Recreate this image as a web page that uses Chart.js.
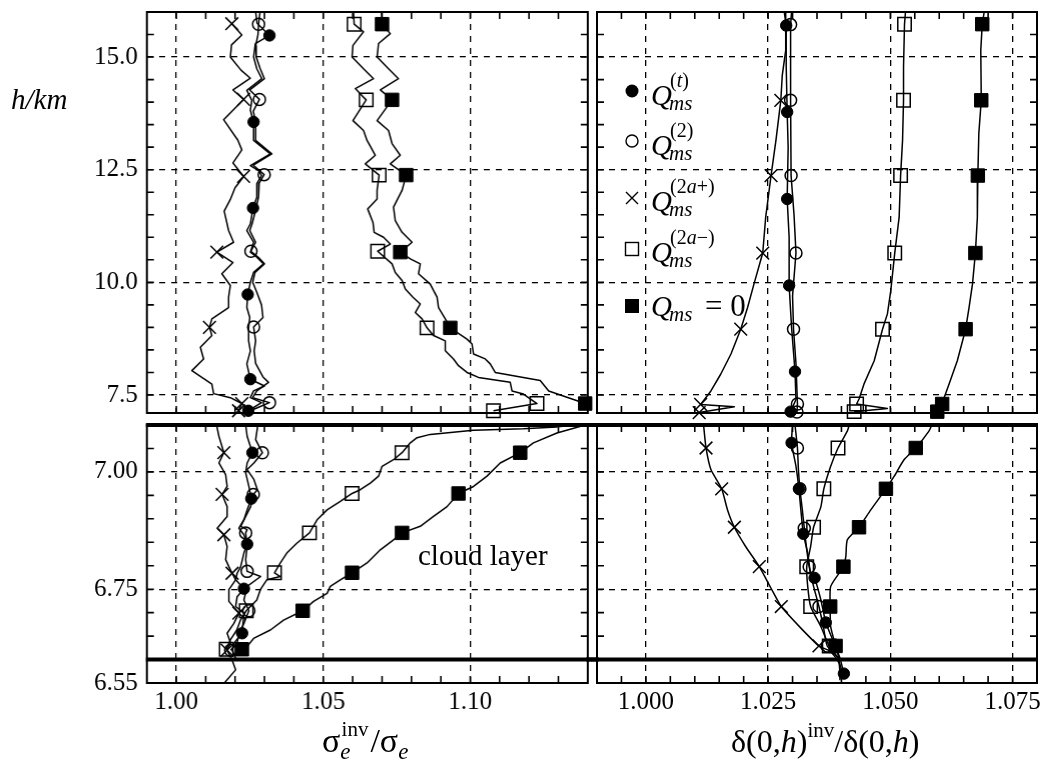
<!DOCTYPE html>
<html><head><meta charset="utf-8">
<script src="https://cdn.jsdelivr.net/npm/chart.js@4.4.1/dist/chart.umd.min.js"></script>
<style>
html,body{margin:0;padding:0;background:#fff;}
#wrap{position:relative;width:1046px;height:762px;overflow:hidden;background:#fff;}
#wrap canvas{position:absolute;left:0;top:0;}
#txt{position:absolute;left:0;top:0;}
</style></head><body>
<div id="wrap">
<canvas id="tl"></canvas><canvas id="tr"></canvas><canvas id="bl"></canvas><canvas id="br"></canvas>
<svg id="txt" width="1046" height="762" font-family="Liberation Serif, Times New Roman, serif" fill="#000">
  <text x="11" y="109" font-size="29" font-style="italic">h/km</text>
  <!-- legend -->
  <circle cx="632" cy="91" r="6.5" fill="#000"/>
  <circle cx="632" cy="141" r="6" fill="none" stroke="#000" stroke-width="1.4"/>
  <path d="M626,192 L638,204 M638,192 L626,204" stroke="#000" stroke-width="1.4"/>
  <rect x="625.5" y="242.5" width="13" height="13" fill="none" stroke="#000" stroke-width="1.4"/>
  <rect x="625" y="299" width="14" height="14" fill="#000"/>
  <text x="651" y="105" font-size="29" font-style="italic">Q</text>
  <text x="670" y="87" font-size="20">(<tspan font-style="italic">t</tspan>)</text>
  <text x="669" y="110" font-size="21" font-style="italic">ms</text>
  <text x="651" y="155" font-size="29" font-style="italic">Q</text>
  <text x="670" y="137" font-size="20">(2)</text>
  <text x="669" y="160" font-size="21" font-style="italic">ms</text>
  <text x="651" y="211" font-size="29" font-style="italic">Q</text>
  <text x="670" y="193" font-size="20">(2<tspan font-style="italic">a</tspan>+)</text>
  <text x="669" y="216" font-size="21" font-style="italic">ms</text>
  <text x="651" y="262" font-size="29" font-style="italic">Q</text>
  <text x="670" y="244" font-size="20">(2<tspan font-style="italic">a</tspan>−)</text>
  <text x="669" y="267" font-size="21" font-style="italic">ms</text>
  <text x="651" y="316" font-size="29" font-style="italic">Q</text>
  <text x="669" y="321" font-size="21" font-style="italic">ms</text>
  <text x="705" y="316" font-size="31">= 0</text>
  <!-- annotation -->
  <text x="418" y="565" font-size="29">cloud layer</text>
  <!-- axis titles -->
  <text x="322" y="752" font-size="34">σ<tspan font-size="23" font-style="italic" dy="7">e</tspan><tspan font-size="21" dy="-23" dx="-9">inv</tspan><tspan dy="16" dx="2">/σ</tspan><tspan font-size="23" font-style="italic" dy="7">e</tspan></text>
  <text x="731" y="752" font-size="32">δ(0,<tspan font-style="italic">h</tspan>)<tspan font-size="21" dy="-15">inv</tspan><tspan dy="15">/δ(0,</tspan><tspan font-style="italic">h</tspan>)</text>
</svg>
</div>
<script>
// ---------- tick labels / grid values ----------
const xLabelsLeft = [1.00, 1.05, 1.10];
const xLabelsRight = [1.000, 1.025, 1.050, 1.075];
const yLabelsTop = [7.5, 10.0, 12.5, 15.0];
const yLabelsBottom = [6.55, 6.75, 7.00];
const yGridBottom = [6.75, 7.00];
const cloudLayer = [6.60, 7.10];

// ---------- top-left panel: sigma ratio, h 7.1..16 km ----------
const tl_t_line = [[1.0270,16.00],[1.0275,15.75],[1.0317,15.48],[1.0269,15.30],[1.0263,15.00],[1.0274,14.74],[1.0291,14.52],[1.0240,14.26],[1.0257,14.04],[1.0252,13.82],[1.0263,13.56],[1.0263,13.15],[1.0320,12.85],[1.0252,12.59],[1.0280,12.48],[1.0290,12.37],[1.0274,12.19],[1.0274,11.89],[1.0261,11.65],[1.0252,11.30],[1.0240,11.15],[1.0263,10.89],[1.0252,10.67],[1.0274,10.56],[1.0297,10.41],[1.0263,10.22],[1.0252,10.00],[1.0243,9.73],[1.0240,9.44],[1.0250,9.22],[1.0246,9.00],[1.0246,8.70],[1.0252,8.48],[1.0240,8.19],[1.0252,7.85],[1.0300,7.70],[1.0263,7.59],[1.0252,7.44],[1.0290,7.33],[1.0245,7.15]];
const tl_t_marks = [[1.0317,15.48],[1.0263,13.56],[1.0261,11.65],[1.0243,9.73],[1.0252,7.85],[1.0245,7.15]];
const tl_2_line = [[1.0285,16.00],[1.0280,15.73],[1.0278,15.50],[1.0270,15.25],[1.0272,15.00],[1.0285,14.75],[1.0300,14.52],[1.0250,14.27],[1.0283,14.06],[1.0262,13.80],[1.0270,13.55],[1.0270,13.15],[1.0325,12.85],[1.0262,12.60],[1.0299,12.39],[1.0282,12.20],[1.0280,11.90],[1.0270,11.60],[1.0258,11.30],[1.0250,11.15],[1.0270,10.89],[1.0254,10.69],[1.0280,10.55],[1.0300,10.41],[1.0268,10.22],[1.0260,10.00],[1.0274,9.78],[1.0290,9.50],[1.0295,9.22],[1.0263,9.01],[1.0270,8.70],[1.0265,8.48],[1.0270,8.20],[1.0295,7.90],[1.0314,7.78],[1.0274,7.59],[1.0260,7.44],[1.0317,7.33],[1.0270,7.20],[1.0250,7.15]];
const tl_2_marks = [[1.0280,15.73],[1.0283,14.06],[1.0299,12.39],[1.0254,10.69],[1.0263,9.01],[1.0317,7.33]];
const tl_a_line = [[1.0189,15.74],[1.0223,15.49],[1.0188,15.27],[1.0184,15.00],[1.0220,14.71],[1.0252,14.53],[1.0193,14.27],[1.0229,14.06],[1.0161,13.61],[1.0209,13.16],[1.0223,12.94],[1.0193,12.65],[1.0229,12.35],[1.0200,12.10],[1.0184,11.84],[1.0163,11.58],[1.0178,11.15],[1.0195,10.89],[1.0138,10.67],[1.0193,10.44],[1.0155,10.19],[1.0184,9.93],[1.0178,9.67],[1.0178,9.44],[1.0121,9.19],[1.0113,9.00],[1.0121,8.82],[1.0082,8.56],[1.0093,8.30],[1.0053,8.04],[1.0121,7.74],[1.0127,7.53],[1.0184,7.44],[1.0223,7.31],[1.0212,7.15]];
const tl_a_marks = [[1.0189,15.74],[1.0229,14.06],[1.0229,12.35],[1.0138,10.67],[1.0113,9.00],[1.0223,7.31],[1.0212,7.15]];
const tl_m_line = [[1.0603,16.00],[1.0605,15.73],[1.0637,15.56],[1.0601,15.26],[1.0598,15.00],[1.0637,14.74],[1.0671,14.52],[1.0609,14.30],[1.0637,14.11],[1.0646,14.05],[1.0601,13.59],[1.0637,13.37],[1.0649,13.15],[1.0677,12.82],[1.0643,12.63],[1.0690,12.38],[1.0683,12.04],[1.0683,11.85],[1.0651,11.63],[1.0669,11.33],[1.0673,11.11],[1.0705,11.00],[1.0728,10.85],[1.0685,10.69],[1.0734,10.41],[1.0745,10.22],[1.0768,10.04],[1.0779,9.85],[1.0805,9.67],[1.0830,9.52],[1.0813,9.33],[1.0836,9.19],[1.0853,8.99],[1.0875,8.82],[1.0915,8.70],[1.0915,8.48],[1.0943,8.30],[1.0960,8.15],[1.0989,8.00],[1.1028,7.89],[1.1136,7.78],[1.1142,7.59],[1.1181,7.52],[1.1227,7.31],[1.1079,7.15]];
const tl_m_marks = [[1.0605,15.73],[1.0646,14.05],[1.0690,12.38],[1.0685,10.69],[1.0853,8.99],[1.1227,7.31],[1.1079,7.15]];
const tl_0_line = [[1.0698,16.00],[1.0700,15.73],[1.0728,15.52],[1.0688,15.30],[1.0683,15.00],[1.0722,14.74],[1.0756,14.52],[1.0694,14.27],[1.0734,14.05],[1.0683,13.59],[1.0722,13.37],[1.0734,13.08],[1.0762,12.82],[1.0728,12.63],[1.0782,12.38],[1.0768,12.04],[1.0739,11.67],[1.0745,11.37],[1.0768,11.11],[1.0802,10.89],[1.0762,10.67],[1.0796,10.52],[1.0830,10.41],[1.0824,10.19],[1.0864,9.96],[1.0887,9.67],[1.0892,9.44],[1.0915,9.19],[1.0932,8.99],[1.0989,8.74],[1.1006,8.63],[1.1011,8.41],[1.1051,8.30],[1.1068,8.19],[1.1085,8.00],[1.1238,7.82],[1.1267,7.59],[1.1391,7.31]];
const tl_0_marks = [[1.0700,15.73],[1.0734,14.05],[1.0782,12.38],[1.0762,10.67],[1.0932,8.99],[1.1391,7.31]];

// ---------- top-right panel: delta ratio, h 7.1..16 km ----------
const tr_t_line = [[1.0283,16.00],[1.0287,15.70],[1.0287,14.80],[1.0289,13.78],[1.0291,13.00],[1.0289,11.85],[1.0293,11.00],[1.0293,9.93],[1.0298,9.00],[1.0305,8.02],[1.0307,7.40],[1.0296,7.13]];
const tr_t_marks = [[1.0287,15.70],[1.0289,13.78],[1.0289,11.85],[1.0293,9.93],[1.0305,8.02],[1.0296,7.13]];
const tr_2_line = [[1.0298,16.00],[1.0296,15.72],[1.0296,14.04],[1.0297,12.37],[1.0303,11.50],[1.0307,10.65],[1.0300,9.70],[1.0302,8.96],[1.0307,8.20],[1.0310,7.30],[1.0309,7.12]];
const tr_2_marks = [[1.0296,15.72],[1.0296,14.04],[1.0297,12.37],[1.0307,10.65],[1.0302,8.96],[1.0310,7.30],[1.0309,7.12]];
const tr_a_line = [[1.0286,16.00],[1.0286,15.15],[1.0279,14.60],[1.0276,14.04],[1.0266,13.15],[1.0256,12.37],[1.0245,11.44],[1.0239,10.65],[1.0221,9.96],[1.0208,9.44],[1.0194,8.96],[1.0174,8.41],[1.0153,7.96],[1.0133,7.59],[1.0112,7.29],[1.0181,7.24],[1.0109,7.11]];
const tr_a_marks = [[1.0276,14.04],[1.0256,12.37],[1.0239,10.65],[1.0194,8.96],[1.0112,7.29],[1.0109,7.11]];
const tr_m_line = [[1.0531,16.00],[1.0529,15.73],[1.0527,14.78],[1.0527,14.04],[1.0525,13.15],[1.0521,12.37],[1.0518,11.44],[1.0509,10.65],[1.0501,9.82],[1.0494,9.30],[1.0484,8.96],[1.0467,8.26],[1.0446,7.74],[1.0436,7.41],[1.0431,7.30],[1.0494,7.20],[1.0426,7.13]];
const tr_m_marks = [[1.0529,15.73],[1.0527,14.04],[1.0521,12.37],[1.0509,10.65],[1.0484,8.96],[1.0431,7.30],[1.0426,7.13]];
const tr_0_line = [[1.0692,16.00],[1.0688,15.73],[1.0685,15.15],[1.0686,14.04],[1.0681,13.30],[1.0679,12.37],[1.0678,11.44],[1.0674,10.65],[1.0668,9.96],[1.0661,9.44],[1.0654,8.96],[1.0637,8.26],[1.0620,7.74],[1.0610,7.44],[1.0606,7.30],[1.0596,7.13]];
const tr_0_marks = [[1.0688,15.73],[1.0686,14.04],[1.0679,12.37],[1.0674,10.65],[1.0654,8.96],[1.0606,7.30],[1.0596,7.13]];

// ---------- bottom-left panel: sigma ratio, h 6.55..7.10 km ----------
const bl_t_line = [[1.0236,7.100],[1.0241,7.076],[1.0259,7.041],[1.0241,7.019],[1.0236,6.998],[1.0247,6.969],[1.0255,6.943],[1.0241,6.919],[1.0230,6.898],[1.0213,6.880],[1.0230,6.866],[1.0241,6.846],[1.0230,6.827],[1.0219,6.798],[1.0207,6.784],[1.0202,6.770],[1.0230,6.751],[1.0207,6.734],[1.0202,6.713],[1.0230,6.699],[1.0224,6.656],[1.0196,6.635],[1.0190,6.620],[1.0202,6.603]];
const bl_t_marks = [[1.0259,7.041],[1.0255,6.943],[1.0241,6.846],[1.0230,6.751],[1.0224,6.656]];
const bl_2_line = [[1.0276,7.100],[1.0276,7.094],[1.0270,7.069],[1.0293,7.041],[1.0264,7.019],[1.0241,7.005],[1.0264,6.984],[1.0276,6.962],[1.0262,6.952],[1.0253,6.926],[1.0219,6.884],[1.0241,6.877],[1.0236,6.870],[1.0241,6.841],[1.0236,6.813],[1.0241,6.788],[1.0287,6.777],[1.0241,6.756],[1.0230,6.727],[1.0247,6.704],[1.0230,6.677],[1.0213,6.656],[1.0207,6.635],[1.0185,6.620]];
const bl_2_marks = [[1.0293,7.041],[1.0262,6.952],[1.0236,6.870],[1.0241,6.788],[1.0247,6.704],[1.0185,6.620]];
const bl_a_line = [[1.0139,7.100],[1.0139,7.094],[1.0145,7.076],[1.0162,7.041],[1.0145,7.019],[1.0168,6.994],[1.0173,6.969],[1.0156,6.952],[1.0173,6.926],[1.0173,6.905],[1.0139,6.880],[1.0162,6.866],[1.0173,6.841],[1.0168,6.813],[1.0179,6.798],[1.0190,6.784],[1.0202,6.770],[1.0179,6.749],[1.0179,6.724],[1.0213,6.699],[1.0196,6.677],[1.0173,6.656],[1.0185,6.635],[1.0173,6.620],[1.0190,6.599],[1.0202,6.578],[1.0162,6.549]];
const bl_a_marks = [[1.0162,7.041],[1.0156,6.952],[1.0162,6.866],[1.0190,6.784],[1.0213,6.699],[1.0173,6.620]];
const bl_m_line = [[1.1397,7.101],[1.1295,7.096],[1.1181,7.092],[1.1011,7.089],[1.0864,7.080],[1.0819,7.073],[1.0796,7.062],[1.0768,7.041],[1.0739,7.026],[1.0700,7.012],[1.0688,6.991],[1.0660,6.976],[1.0626,6.962],[1.0598,6.954],[1.0558,6.937],[1.0513,6.919],[1.0479,6.898],[1.0453,6.870],[1.0410,6.848],[1.0376,6.827],[1.0354,6.806],[1.0334,6.785],[1.0354,6.777],[1.0308,6.770],[1.0286,6.749],[1.0274,6.727],[1.0238,6.704],[1.0218,6.684],[1.0206,6.663],[1.0184,6.642],[1.0170,6.622]];
const bl_m_marks = [[1.0768,7.041],[1.0598,6.954],[1.0453,6.870],[1.0334,6.785],[1.0238,6.704],[1.0170,6.622]];
const bl_0_line = [[1.1397,7.101],[1.1295,7.083],[1.1215,7.062],[1.1170,7.041],[1.1102,7.019],[1.1057,6.991],[1.1011,6.969],[1.0960,6.954],[1.0921,6.926],[1.0875,6.905],[1.0830,6.884],[1.0768,6.870],[1.0739,6.855],[1.0694,6.834],[1.0649,6.806],[1.0598,6.785],[1.0558,6.770],[1.0524,6.756],[1.0513,6.741],[1.0467,6.724],[1.0430,6.704],[1.0365,6.684],[1.0320,6.663],[1.0263,6.645],[1.0240,6.627],[1.0223,6.622]];
const bl_0_marks = [[1.1170,7.041],[1.0960,6.954],[1.0768,6.870],[1.0598,6.785],[1.0430,6.704],[1.0223,6.622]];

// ---------- bottom-right panel: delta ratio, h 6.55..7.10 km ----------
const br_t_line = [[1.0300,7.100],[1.0298,7.062],[1.0307,7.012],[1.0313,6.964],[1.0317,6.919],[1.0322,6.868],[1.0331,6.827],[1.0337,6.784],[1.0345,6.774],[1.0358,6.727],[1.0368,6.679],[1.0385,6.635],[1.0397,6.603],[1.0405,6.570]];
const br_t_marks = [[1.0298,7.062],[1.0313,6.964],[1.0322,6.868],[1.0345,6.774],[1.0368,6.679],[1.0405,6.570]];
const br_2_line = [[1.0305,7.100],[1.0310,7.051],[1.0312,7.005],[1.0315,6.964],[1.0320,6.919],[1.0324,6.880],[1.0329,6.834],[1.0334,6.798],[1.0343,6.756],[1.0354,6.713],[1.0363,6.670],[1.0371,6.629],[1.0392,6.605],[1.0402,6.570]];
const br_2_marks = [[1.0310,7.051],[1.0315,6.964],[1.0324,6.880],[1.0334,6.798],[1.0354,6.713],[1.0371,6.629]];
const br_a_line = [[1.0118,7.100],[1.0123,7.051],[1.0133,7.005],[1.0155,6.964],[1.0167,6.919],[1.0181,6.882],[1.0204,6.841],[1.0232,6.798],[1.0256,6.752],[1.0277,6.713],[1.0317,6.667],[1.0354,6.629],[1.0378,6.617],[1.0395,6.592],[1.0397,6.556]];
const br_a_marks = [[1.0123,7.051],[1.0155,6.964],[1.0181,6.882],[1.0232,6.798],[1.0277,6.713],[1.0354,6.629]];
const br_m_line = [[1.0416,7.100],[1.0412,7.087],[1.0393,7.051],[1.0378,7.012],[1.0364,6.964],[1.0358,6.926],[1.0343,6.882],[1.0337,6.841],[1.0329,6.798],[1.0331,6.756],[1.0337,6.713],[1.0358,6.670],[1.0375,6.629],[1.0392,6.605]];
const br_m_marks = [[1.0393,7.051],[1.0364,6.964],[1.0343,6.882],[1.0329,6.798],[1.0337,6.713],[1.0375,6.629]];
const br_0_line = [[1.0585,7.100],[1.0579,7.087],[1.0552,7.051],[1.0528,7.026],[1.0508,6.991],[1.0491,6.964],[1.0460,6.919],[1.0436,6.882],[1.0412,6.855],[1.0409,6.820],[1.0404,6.798],[1.0378,6.756],[1.0377,6.713],[1.0378,6.670],[1.0388,6.629],[1.0395,6.603]];
const br_0_marks = [[1.0552,7.051],[1.0491,6.964],[1.0436,6.882],[1.0404,6.798],[1.0377,6.713],[1.0388,6.629]];

// ---------- rendering ----------
const FONT = "'Liberation Serif', 'Times New Roman', serif";
const near = (v, list) => list.some(t => Math.abs(t - v) < 1e-6);
// tick positions: multiples of the step that lie inside [a, b]
const steps = (a, b, s) => {
  const out = [];
  const i0 = Math.ceil(a / s - 1e-6), i1 = Math.floor(b / s + 1e-6);
  for (let i = i0; i <= i1; i++) out.push(Math.round(i * s * 1e6) / 1e6);
  return out;
};
const STY = {
  t:    {ps: 'circle',   r: 5.7, bg: '#000', bw: 1},
  two:  {ps: 'circle',   r: 6,   bg: 'rgba(0,0,0,0)', bw: 1.5},
  ap:   {ps: 'crossRot', r: 9,   bg: 'rgba(0,0,0,0)', bw: 1.5},
  am:   {ps: 'rect',     r: 9.5, bg: 'rgba(0,0,0,0)', bw: 1.5},
  zero: {ps: 'rect',     r: 9.5, bg: '#000', bw: 1}
};
const pts = a => a.map(([x, y]) => ({x, y}));
function series(line, marks, s, tension) {
  return [
    {data: pts(line), showLine: true, pointRadius: 0, borderColor: '#000', borderWidth: 1.5, tension: tension || 0, clip: 8},
    {data: pts(marks), showLine: false, pointStyle: s.ps, pointRadius: s.r, backgroundColor: s.bg,
     pointBackgroundColor: s.bg, pointBorderColor: '#000', borderColor: '#000', pointBorderWidth: s.bw, clip: 8}
  ];
}

const framePlugin = {
  id: 'frame',
  beforeDatasetsDraw(chart) {
    const {ctx, chartArea: a, scales: {x, y}} = chart;
    const L = 7;
    ctx.save();
    ctx.strokeStyle = '#000'; ctx.lineWidth = 1.6; ctx.beginPath();
    x.ticks.forEach(t => {
      const p = x.getPixelForValue(t.value);
      if (p > a.left + 2 && p < a.right - 2) {
        ctx.moveTo(p, a.top); ctx.lineTo(p, a.top + L);
        ctx.moveTo(p, a.bottom); ctx.lineTo(p, a.bottom - L);
      }
    });
    y.ticks.forEach(t => {
      const p = y.getPixelForValue(t.value);
      if (p > a.top + 2 && p < a.bottom - 2) {
        ctx.moveTo(a.left, p); ctx.lineTo(a.left + L, p);
        ctx.moveTo(a.right, p); ctx.lineTo(a.right - L, p);
      }
    });
    ctx.stroke(); ctx.restore();
  },
  afterDatasetsDraw(chart, args, o) {
    const {ctx, chartArea: a, scales: {y}} = chart;
    ctx.save();
    ctx.strokeStyle = '#000'; ctx.lineWidth = 2;
    ctx.strokeRect(a.left, a.top, a.right - a.left, a.bottom - a.top);
    (o.thick || []).forEach(v => {
      const p = y.getPixelForValue(v);
      ctx.lineWidth = 4;
      ctx.beginPath();
      ctx.moveTo(a.left - (o.extL || 0) - 1, p); ctx.lineTo(a.right + (o.extR || 0) + 1, p);
      ctx.stroke();
    });
    ctx.restore();
  }
};

function build(id, T, c) {
  const cv = document.getElementById(id);
  cv.width = (T.R - T.L) + 200; cv.height = (T.B - T.T) + 120;
  const xt = steps(c.xmin, c.xmax, c.xstep), yt = steps(c.ymin, c.ymax, c.ystep);
  const chart = new Chart(cv, {
    type: 'scatter',
    data: {datasets: c.datasets},
    options: {
      responsive: false, maintainAspectRatio: false, animation: false,
      layout: {padding: {left: 14, right: 14, top: 12, bottom: 8}},
      plugins: {legend: {display: false}, tooltip: {enabled: false}, frame: c.frame || {}},
      elements: {line: {borderJoinStyle: 'round'}},
      scales: {
        x: {type: 'linear', min: c.xmin, max: c.xmax,
            afterBuildTicks: s => { s.ticks = xt.map(v => ({value: v})); },
            ticks: {autoSkip: false, display: !!c.xlab, maxRotation: 0, minRotation: 0, padding: 4,
                    color: '#000', font: {family: FONT, size: 25},
                    callback: v => (c.xlab && near(v, c.xlab)) ? v.toFixed(c.xdec) : ''},
            grid: {drawTicks: false, lineWidth: 1.3, color: k => near(k.tick.value, c.xgrid) ? '#000' : 'rgba(0,0,0,0)'},
            border: {display: false, dash: [6, 6]}},
        y: {type: 'linear', min: c.ymin, max: c.ymax,
            afterBuildTicks: s => { s.ticks = yt.map(v => ({value: v})); },
            ticks: {autoSkip: false, display: !!c.ylab, padding: 9,
                    color: '#000', font: {family: FONT, size: 25},
                    callback: v => (c.ylab && near(v, c.ylab)) ? v.toFixed(c.ydec) : ''},
            grid: {drawTicks: false, lineWidth: 1.3, color: k => near(k.tick.value, c.ygrid) ? '#000' : 'rgba(0,0,0,0)'},
            border: {display: false, dash: [6, 6]}}
      }
    },
    plugins: [framePlugin]
  });
  let ca = chart.chartArea;
  chart.resize(cv.width + (T.R - T.L) - (ca.right - ca.left), cv.height + (T.B - T.T) - (ca.bottom - ca.top));
  ca = chart.chartArea;
  cv.style.left = (T.L - ca.left) + 'px';
  cv.style.top = (T.T - ca.top) + 'px';
  return chart;
}

build('tl', {L: 147, T: 12, R: 587, B: 413}, {
  xmin: 0.99, xmax: 1.14, xstep: 0.01, xgrid: xLabelsLeft,
  ymin: 7.1, ymax: 16, ystep: 0.5, ygrid: yLabelsTop, ylab: yLabelsTop, ydec: 1,
  datasets: [].concat(series(tl_t_line, tl_t_marks, STY.t), series(tl_2_line, tl_2_marks, STY.two),
    series(tl_a_line, tl_a_marks, STY.ap), series(tl_m_line, tl_m_marks, STY.am), series(tl_0_line, tl_0_marks, STY.zero))
});
build('tr', {L: 597, T: 12, R: 1037, B: 413}, {
  xmin: 0.99, xmax: 1.08, xstep: 0.005, xgrid: xLabelsRight,
  ymin: 7.1, ymax: 16, ystep: 0.5, ygrid: yLabelsTop,
  datasets: [].concat(series(tr_t_line, tr_t_marks, STY.t), series(tr_2_line, tr_2_marks, STY.two),
    series(tr_a_line, tr_a_marks, STY.ap), series(tr_m_line, tr_m_marks, STY.am), series(tr_0_line, tr_0_marks, STY.zero))
});
build('bl', {L: 147, T: 425, R: 587, B: 683}, {
  xmin: 0.99, xmax: 1.14, xstep: 0.01, xgrid: xLabelsLeft, xlab: xLabelsLeft, xdec: 2,
  ymin: 6.55, ymax: 7.10, ystep: 0.05, ygrid: yGridBottom, ylab: yLabelsBottom, ydec: 2,
  frame: {thick: cloudLayer, extR: 10},
  datasets: [].concat(series(bl_t_line, bl_t_marks, STY.t), series(bl_2_line, bl_2_marks, STY.two),
    series(bl_a_line, bl_a_marks, STY.ap), series(bl_m_line, bl_m_marks, STY.am), series(bl_0_line, bl_0_marks, STY.zero))
});
build('br', {L: 597, T: 425, R: 1037, B: 683}, {
  xmin: 0.99, xmax: 1.08, xstep: 0.005, xgrid: xLabelsRight, xlab: xLabelsRight, xdec: 3,
  ymin: 6.55, ymax: 7.10, ystep: 0.05, ygrid: yGridBottom,
  frame: {thick: cloudLayer, extL: 10},
  datasets: [].concat(series(br_t_line, br_t_marks, STY.t, 0.2), series(br_2_line, br_2_marks, STY.two, 0.2),
    series(br_a_line, br_a_marks, STY.ap, 0.2), series(br_m_line, br_m_marks, STY.am, 0.2), series(br_0_line, br_0_marks, STY.zero, 0.2))
});
</script>
</body></html>
